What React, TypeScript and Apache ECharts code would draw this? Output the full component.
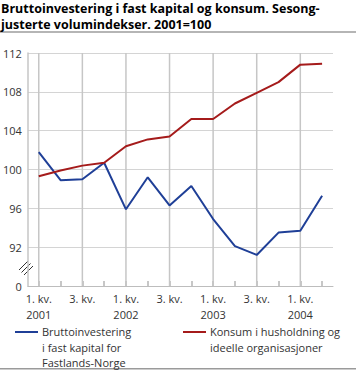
import React, { useEffect, useRef } from "react";
import * as echarts from "echarts";

const titleLines = ["Bruttoinvestering i fast kapital og konsum. Sesong-", "justerte volumindekser. 2001=100"];
const categories = [
  "1. kv.\n2001", "2. kv.", "3. kv.", "4. kv.",
  "1. kv.\n2002", "2. kv.", "3. kv.", "4. kv.",
  "1. kv.\n2003", "2. kv.", "3. kv.", "4. kv.",
  "1. kv.\n2004", "2. kv.",
];
const gridCategoryIndexes = [0, 2, 4, 6, 8, 10, 12];
const investName = "Bruttoinvestering\ni fast kapital for\nFastlands-Norge";
const consumName = "Konsum i husholdning og\nideelle organisasjoner";
const investValues = [101.8, 98.9, 99.0, 100.7, 95.9, 99.2, 96.3, 98.3, 94.9, 92.1, 91.2, 93.5, 93.7, 97.3];
const consumValues = [99.3, 99.9, 100.4, 100.7, 102.4, 103.1, 103.4, 105.2, 105.2, 106.8, 107.9, 109.0, 110.8, 110.9];
const yMin = 88;
const yMax = 112;
const yStep = 4;

const BLUE = "#1f3f97";
const RED = "#a51b1b";
const FONT = "Open Sans";
const GRID = "#d4d4d4";
const VGRID = "#c6c6c6";

export default function App() {
  const ref = useRef<HTMLDivElement>(null);
  useEffect(() => {
    if (!ref.current) return;
    const chart = echarts.init(ref.current, null, { renderer: "svg" });
    const staticGraphic: any[] = [
      { type: "rect", shape: { x: 0, y: 31, width: 356, height: 2 }, style: { fill: "#b5b5b5" } },
      { type: "rect", shape: { x: 0, y: 368, width: 356, height: 1.5 }, style: { fill: "#9a9a9a" } },
      { type: "line", shape: { x1: 19, y1: 270, x2: 28, y2: 261 }, style: { stroke: "#333", lineWidth: 1 } },
      { type: "line", shape: { x1: 21.5, y1: 272.5, x2: 30.5, y2: 263.5 }, style: { stroke: "#333", lineWidth: 1 } },
      { type: "line", shape: { x1: 24, y1: 275, x2: 33, y2: 266 }, style: { stroke: "#333", lineWidth: 1 } },
      { type: "rect", shape: { x: 15, y: 331, width: 23, height: 2 }, style: { fill: BLUE } },
      {
        type: "text", x: 42, y: 324,
        style: { text: investName, fontSize: 11, lineHeight: 15.5, fill: "#333", fontFamily: FONT },
      },
      { type: "rect", shape: { x: 183, y: 331, width: 23, height: 2 }, style: { fill: RED } },
      {
        type: "text", x: 210, y: 324,
        style: { text: consumName, fontSize: 11, lineHeight: 15.5, fill: "#333", fontFamily: FONT },
      },
    ];
    chart.setOption({
      animation: false,
      textStyle: { fontFamily: FONT },
      title: {
        text: titleLines.join("\n"),
        left: 0,
        top: 0,
        padding: [1, 0, 0, 1],
        textStyle: { fontSize: 12.5, fontWeight: "bold", color: "#000", lineHeight: 15.5, fontFamily: FONT },
      },
      grid: { left: 27, right: 23, top: 53, bottom: 84, containLabel: false },
      xAxis: {
        type: "category",
        data: categories,
        boundaryGap: true,
        axisLine: { show: true, lineStyle: { color: "#bdbdbd", width: 1 } },
        axisTick: { show: true, inside: true, length: 5, interval: 0, alignWithLabel: true, lineStyle: { color: "#b5b5b5", width: 1.5 } },
        splitLine: { show: false },
        axisLabel: { interval: 1, margin: 4, fontSize: 11, color: "#333", lineHeight: 16, fontFamily: FONT },
      },
      yAxis: {
        type: "value",
        min: yMin,
        max: yMax,
        interval: yStep,
        axisLine: { show: true, lineStyle: { color: VGRID, width: 1.5 } },
        axisTick: { show: false },
        splitLine: { show: true, lineStyle: { color: GRID, width: 1 } },
        axisLabel: {
          margin: 6,
          fontSize: 11,
          color: "#333",
          fontFamily: FONT,
          formatter: (v: number) => (v === yMin ? "0" : String(v)),
        },
      },
      series: [
        {
          name: investName,
          type: "line",
          data: investValues,
          symbol: "none",
          z: 3,
          lineStyle: { color: BLUE, width: 2 },
          itemStyle: { color: BLUE },
        },
        {
          name: consumName,
          type: "line",
          data: consumValues,
          symbol: "none",
          z: 3,
          lineStyle: { color: RED, width: 2 },
          itemStyle: { color: RED },
        },
      ],
      graphic: staticGraphic,
    });
    const vLines = gridCategoryIndexes.map((i) => {
      const top = chart.convertToPixel({ gridIndex: 0 }, [i, yMax]) as number[];
      const bottom = chart.convertToPixel({ gridIndex: 0 }, [i, yMin]) as number[];
      return {
        type: "rect",
        z: 1,
        silent: true,
        shape: { x: top[0] - 0.75, y: top[1], width: 1.5, height: bottom[1] - top[1] },
        style: { fill: VGRID },
      };
    });
    chart.setOption({ graphic: [...vLines, ...staticGraphic] }, { replaceMerge: ["graphic"] });
    return () => chart.dispose();
  }, []);
  return <div ref={ref} style={{ position: "absolute", left: 0, top: 0, width: 356, height: 370 }} />;
}
